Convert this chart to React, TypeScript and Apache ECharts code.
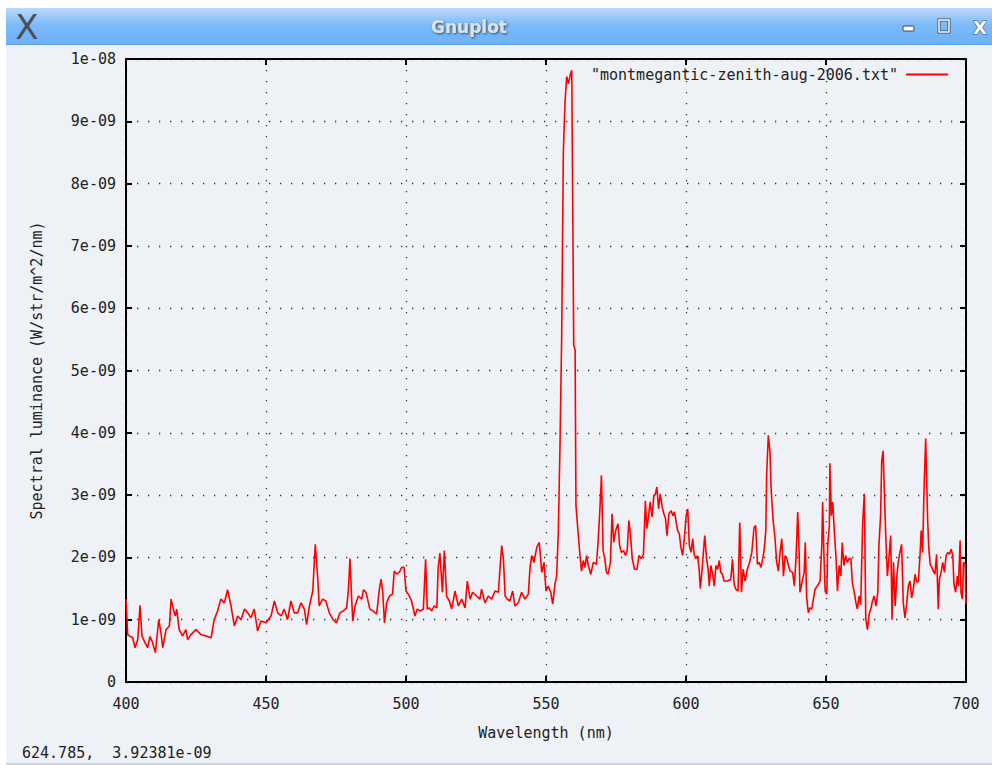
import React, { useEffect, useRef } from "react";
import * as echarts from "echarts";

// ---- data (wavelength in nm, luminance in units of 1e-9 W/str/m^2/nm) ----
const wlSeg1 = [
  400.0, 400.6, 401.2, 402.4, 403.2, 404.2, 405.0, 405.7, 406.5, 407.7,
  408.6, 409.5, 410.5, 411.7, 412.5, 413.1, 414.3, 415.5, 416.1, 416.9,
  417.6, 418.1, 419.0, 420.2, 421.4, 422.0, 423.2, 425.0, 426.8, 428.6,
  430.4, 431.5, 432.7, 433.9, 435.1, 436.3, 437.5, 438.7, 439.9, 441.1,
  442.3, 443.5, 444.6, 445.8, 447.0, 448.2, 450.0, 451.8, 453.0, 454.2,
  455.4, 456.5, 457.7, 458.9, 460.1, 461.3, 462.5, 463.7, 464.5, 465.5,
  466.7, 467.6, 468.5, 469.0, 470.2, 471.4, 472.6,
];
const lumSeg1 = [
  1.33, 0.76, 0.74, 0.71, 0.55, 0.68, 1.23, 0.74, 0.66, 0.55,
  0.73, 0.63, 0.47, 1.0, 0.79, 0.55, 0.84, 0.9, 1.33, 1.17,
  1.06, 1.17, 0.84, 0.74, 0.84, 0.68, 0.76, 0.84, 0.76, 0.74,
  0.71, 1.0, 1.14, 1.33, 1.27, 1.48, 1.22, 0.9, 1.06, 1.0,
  1.17, 1.11, 1.03, 1.17, 0.82, 0.98, 0.95, 1.06, 1.3, 1.11,
  1.06, 1.17, 1.0, 1.3, 1.11, 1.11, 1.27, 1.17, 0.92, 1.22,
  1.46, 2.21, 1.65, 1.22, 1.33, 1.3, 1.11,
];

const wlSeg2 = [
  474.0, 475.2, 476.4, 477.6, 478.8, 479.4, 480.0, 480.6, 481.0, 481.8,
  483.0, 484.2, 484.8, 485.7, 486.6, 487.1, 488.3, 489.5, 490.5, 491.1,
  491.7, 492.3, 493.1, 494.1, 495.2, 495.8, 496.7, 497.6, 498.5, 499.3,
  500.0, 501.2, 502.0, 503.2, 504.0, 505.2, 506.2, 507.0, 507.6, 508.3,
  509.2, 510.0, 511.0, 511.5, 512.1, 513.0, 513.7, 514.5, 515.5, 516.3,
  517.5, 518.7, 519.9, 521.1, 521.9, 522.9, 523.8, 525.2, 526.4, 527.0,
  528.2, 529.4, 530.6, 531.8, 533.0, 533.6, 534.2, 534.8, 535.4, 536.2,
  537.1, 538.1, 538.9, 540.1, 541.3, 542.5, 543.7, 544.3, 544.9, 545.7,
  546.7, 547.6,
];
const lumSeg2 = [
  1.0, 0.95, 1.11, 1.14, 1.19, 1.46, 1.98, 1.33, 0.98, 1.22,
  1.38, 1.33, 1.48, 1.44, 1.27, 1.17, 1.14, 1.09, 1.49, 1.65,
  1.44, 0.95, 1.27, 1.38, 1.41, 1.78, 1.73, 1.76, 1.84, 1.84,
  1.46, 1.38, 1.3, 1.06, 1.17, 1.14, 1.17, 1.97, 1.17, 1.19,
  1.14, 1.22, 1.19, 1.84, 2.07, 1.44, 2.11, 1.38, 1.3, 1.17,
  1.46, 1.22, 1.33, 1.19, 1.62, 1.33, 1.44, 1.38, 1.33, 1.49,
  1.27, 1.38, 1.33, 1.46, 1.44, 1.84, 2.19, 1.97, 1.38, 1.33,
  1.3, 1.46, 1.22, 1.27, 1.44, 1.33, 1.41, 1.84, 2.03, 1.92,
  2.16, 2.24,
];

const wlSeg3 = [
  548.5, 549.3, 550.0, 550.8, 551.7, 552.4, 553.2, 553.8, 554.4, 555.0,
  555.6, 556.2, 556.8, 557.4, 558.0, 558.7, 559.2, 559.9, 560.4, 560.7,
  561.5, 562.1, 562.7, 563.3, 563.9, 564.5, 565.1, 566.0, 566.9, 568.0,
  568.6, 569.2, 569.8, 570.4, 571.0, 571.6, 572.2, 573.0, 573.6, 574.2,
  574.9, 575.7, 576.3, 576.9, 577.7, 578.4, 579.0, 579.6, 580.2, 580.8,
  581.6, 582.5, 583.2, 584.0, 584.8, 585.5, 586.0, 586.6, 587.2, 587.9,
  588.5, 589.1, 589.6, 590.2, 590.8, 591.5, 592.1, 592.7, 593.2, 593.9,
  594.7, 595.3, 595.9, 596.4, 597.0, 597.6, 598.2, 598.8, 599.4, 600.0,
  600.6, 601.2, 601.8, 602.4, 602.9, 603.5, 604.1, 604.7, 605.1, 605.7,
  606.3, 606.7, 607.3, 607.9, 608.3, 608.9, 609.5, 610.1, 610.7, 611.3,
  611.9, 612.4, 613.0, 613.6, 614.8, 616.0, 616.6, 617.2, 617.8, 618.6,
  619.2, 619.8, 620.4, 621.1, 621.9, 622.7, 623.5, 624.3, 624.9, 625.5,
];
const lumSeg3 = [
  1.76, 1.92, 1.46, 1.54, 1.44, 1.25, 1.57, 1.7, 2.4, 3.8,
  5.54, 8.51, 9.31, 9.72, 9.6, 9.75, 9.82, 5.41, 5.33, 2.83,
  2.38, 2.05, 1.78, 1.95, 1.84, 2.03, 1.87, 1.73, 1.92, 1.89,
  2.24, 2.73, 3.32, 2.11, 1.98, 1.76, 1.73, 1.92, 2.7, 2.24,
  2.43, 2.54, 2.19, 2.08, 2.11, 2.03, 2.11, 2.59, 2.35, 1.98,
  1.81, 1.81, 2.03, 1.98, 2.05, 2.91, 2.46, 2.65, 2.89, 2.65,
  2.99, 3.02, 3.13, 2.78, 3.02, 2.81, 2.7, 2.62, 2.35, 2.7,
  2.75, 2.67, 2.73, 2.59, 2.43, 2.38, 2.16, 2.03, 2.3, 2.65,
  2.78, 2.19, 2.08, 2.3, 2.05, 1.98, 2.03, 1.81, 1.5, 1.78,
  2.13, 2.35, 2.0, 1.81, 1.54, 1.87, 1.73, 1.54, 1.87, 1.81,
  1.95, 1.76, 1.73, 1.62, 1.62, 1.65, 1.97, 1.57, 1.49, 1.46,
  2.56, 1.44, 1.81, 1.62, 1.81, 1.92, 2.08, 2.48, 2.51, 1.89,
];

const wlSeg4 = [
  626.1, 626.8, 627.4, 627.9, 628.5, 628.8, 629.4, 630.0, 630.4, 630.8,
  631.2, 631.8, 632.4, 633.0, 633.6, 634.2, 634.8, 635.4, 636.0, 636.6,
  637.2, 638.1, 638.7, 639.3, 639.9, 640.4, 640.7, 641.3, 642.2, 642.6,
  643.1, 643.7, 644.3, 644.9, 645.5, 646.1, 646.9, 647.9, 648.5, 648.8,
  649.3, 649.7, 650.3, 650.6, 651.2, 651.4, 651.9, 652.4, 653.0, 653.6,
  654.1, 654.7, 655.3, 655.8, 656.4, 657.0, 657.6, 658.2, 658.9, 659.4,
  660.1, 660.7, 661.2, 661.8, 662.4, 663.1, 663.7, 664.2, 664.8, 665.4,
  666.0, 666.6, 667.2, 667.9, 668.5, 668.9, 669.5, 669.9, 670.4, 670.7,
  671.3, 671.9, 672.5, 673.1, 673.6, 674.1, 674.7, 675.3, 675.8, 676.4,
  677.0, 677.6, 678.2, 678.8, 679.4, 680.0, 680.6, 681.2, 681.8, 682.4,
  683.0, 683.6, 684.0, 684.5, 685.0, 685.6, 686.0, 686.3, 686.7, 687.2,
  687.8, 688.3, 688.9, 689.5, 690.1, 690.5, 691.1, 691.7, 692.3, 692.9,
  693.5, 694.1, 694.7, 695.3, 695.7, 696.3, 696.9, 697.3, 697.9, 698.2,
  698.7, 699.1, 699.7, 700.0,
];
const lumSeg4 = [
  1.92, 1.84, 1.98, 2.11, 2.43, 3.32, 3.96, 3.69, 3.1, 2.81,
  2.56, 2.3, 1.92, 1.78, 2.08, 2.3, 1.7, 2.03, 1.98, 1.87,
  1.78, 1.76, 1.54, 2.0, 2.73, 2.08, 1.44, 1.57, 1.76, 2.24,
  1.35, 1.11, 1.19, 1.17, 1.33, 1.49, 1.54, 1.62, 2.19, 2.89,
  1.98, 1.46, 1.41, 2.19, 2.51, 3.51, 2.67, 2.89, 2.4, 1.98,
  1.46, 1.87, 1.7, 2.24, 1.87, 2.03, 1.92, 1.98, 1.98, 1.6,
  1.44, 1.27, 1.17, 1.38, 1.24, 2.56, 3.02, 1.02, 0.84, 1.09,
  1.17, 1.3, 1.38, 1.22, 1.44, 2.19, 2.67, 3.55, 3.71, 3.27,
  2.4, 1.7, 2.0, 2.35, 1.0, 1.92, 1.22, 1.7, 1.92, 2.08,
  2.21, 1.27, 1.03, 1.25, 1.54, 1.62, 1.35, 1.49, 1.73, 1.6,
  1.62, 2.05, 2.43, 2.08, 3.07, 3.91, 3.17, 2.6, 2.16, 1.89,
  1.84, 1.78, 1.73, 2.05, 1.17, 1.65, 1.76, 1.92, 1.76, 2.03,
  2.08, 2.05, 2.13, 2.03, 1.57, 1.44, 1.7, 1.54, 2.27, 1.44,
  1.33, 1.92, 1.89, 1.25,
];

const LUM_UNIT = 1e-9;
const xMin = 400;
const xMax = 700;
const xStep = 50;
const yMin = 0;
const yMax = 1e-8;
const yStep = 1e-9;

const seriesName = '"montmegantic-zenith-aug-2006.txt"';
const xAxisTitle = "Wavelength (nm)";
const yAxisTitle = "Spectral luminance (W/str/m^2/nm)";
const windowTitle = "Gnuplot";
const statusText = "624.785,  3.92381e-09";

const MONO = "'DejaVu Sans Mono', 'Liberation Mono', monospace";
const BG = "#eef1f6";

const fmtExp = (v: number) => {
  if (Math.abs(v) < 1e-20) return "0";
  const s = v.toExponential(0);
  const [m, e] = s.split("e");
  const sign = e[0] === "-" ? "-" : "+";
  const d = e.replace(/[-+]/, "").padStart(2, "0");
  return `${m}e${sign}${d}`;
};

export default function App() {
  const ref = useRef<HTMLDivElement>(null);

  useEffect(() => {
    if (!ref.current) return;
    const chart = echarts.init(ref.current, undefined, { renderer: "svg" });

    const wl = [...wlSeg1, ...wlSeg2, ...wlSeg3, ...wlSeg4];
    const lum = [...lumSeg1, ...lumSeg2, ...lumSeg3, ...lumSeg4];
    const data = wl.map((w, i) => [w, lum[i] * LUM_UNIT]);

    const frameLine = { color: "#000", width: 2 };
    const tick = { show: true, inside: true, length: 6, lineStyle: { color: "#000", width: 2 } };
    const grid = { color: "#333", width: 1.3, type: [1.3, 9.7] as any };
    const labelStyle = { color: "#222", fontFamily: MONO, fontSize: 15 };

    chart.setOption({
      animation: false,
      backgroundColor: BG,
      textStyle: { fontFamily: MONO },
      grid: { left: 126, top: 59, width: 840, height: 623, containLabel: false },
      legend: {
        data: [seriesName],
        right: 44,
        top: 67,
        padding: 0,
        align: "right",
        icon: "rect",
        itemWidth: 42,
        itemHeight: 2,
        selectedMode: false,
        textStyle: { ...labelStyle, padding: [0, 3, 0, 0] },
      },
      xAxis: [
        {
          type: "value",
          min: xMin,
          max: xMax,
          interval: xStep,
          position: "bottom",
          axisLine: { show: true, onZero: false, lineStyle: frameLine },
          axisTick: tick,
          axisLabel: { ...labelStyle, margin: 14 },
          splitLine: { show: true, lineStyle: grid },
          name: xAxisTitle,
          nameLocation: "middle",
          nameGap: 43,
          nameTextStyle: labelStyle,
        },
        {
          type: "value",
          min: xMin,
          max: xMax,
          interval: xStep,
          position: "top",
          axisLine: { show: true, onZero: false, lineStyle: frameLine },
          axisTick: tick,
          axisLabel: { show: false },
          splitLine: { show: false },
        },
      ],
      yAxis: [
        {
          type: "value",
          min: yMin,
          max: yMax,
          interval: yStep,
          position: "left",
          axisLine: { show: true, onZero: false, lineStyle: frameLine },
          axisTick: tick,
          axisLabel: { ...labelStyle, margin: 10, formatter: fmtExp },
          splitLine: { show: true, lineStyle: grid },
          name: yAxisTitle,
          nameLocation: "middle",
          nameGap: 82,
          nameTextStyle: labelStyle,
        },
        {
          type: "value",
          min: yMin,
          max: yMax,
          interval: yStep,
          position: "right",
          axisLine: { show: true, onZero: false, lineStyle: frameLine },
          axisTick: tick,
          axisLabel: { show: false },
          splitLine: { show: false },
        },
      ],
      series: [
        {
          name: seriesName,
          type: "line",
          xAxisIndex: 0,
          yAxisIndex: 0,
          data,
          showSymbol: false,
          symbol: "none",
          lineStyle: { color: "#ff0000", width: 1.6 },
          itemStyle: { color: "#ff0000" },
          z: 3,
        },
      ],
      graphic: [
        { type: "rect", shape: { x: 0, y: 0, width: 992, height: 8 }, style: { fill: "#ffffff" }, silent: true },
        { type: "rect", shape: { x: 0, y: 0, width: 6, height: 765 }, style: { fill: "#ffffff" }, silent: true },
        {
          type: "rect",
          shape: { x: 6, y: 8, width: 986, height: 37 },
          style: {
            fill: new echarts.graphic.LinearGradient(0, 0, 0, 1, [
              { offset: 0, color: "#bcd9fb" },
              { offset: 0.45, color: "#7dbaf9" },
              { offset: 1, color: "#6cb1f7" },
            ]),
          },
          silent: true,
        },
        { type: "rect", shape: { x: 6, y: 44, width: 986, height: 1 }, style: { fill: "#5c9ee2" }, silent: true },
        {
          type: "text",
          x: 27,
          y: 27,
          style: {
            text: "X",
            fontFamily: "'DejaVu Sans', sans-serif",
            fontSize: 34,
            fill: "#4a5058",
            align: "center",
            verticalAlign: "middle",
          },
          silent: true,
        },
        {
          type: "text",
          x: 469,
          y: 27,
          style: {
            text: windowTitle,
            fontFamily: "'DejaVu Sans', sans-serif",
            fontSize: 17,
            fontWeight: "bold",
            fill: "#dde2e8",
            align: "center",
            verticalAlign: "middle",
            textShadowColor: "rgba(40,50,60,0.8)",
            textShadowBlur: 2,
            textShadowOffsetX: 1,
            textShadowOffsetY: 1,
          },
          silent: true,
        },
        {
          type: "rect",
          shape: { x: 903, y: 26, width: 11, height: 5, r: 1 },
          style: { fill: "#ffffff", stroke: "#3a4654", lineWidth: 1 },
          silent: true,
        },
        {
          type: "rect",
          shape: { x: 939, y: 20, width: 10, height: 12 },
          style: { fill: "none", stroke: "#3a4654", lineWidth: 3 },
          silent: true,
        },
        {
          type: "rect",
          shape: { x: 939, y: 20, width: 10, height: 12 },
          style: { fill: "none", stroke: "#ffffff", lineWidth: 1.5 },
          silent: true,
        },
        {
          type: "text",
          x: 980,
          y: 27,
          style: {
            text: "X",
            fontFamily: "'DejaVu Sans', sans-serif",
            fontSize: 18,
            fontWeight: "bold",
            fill: "#ffffff",
            stroke: "#3a4654",
            lineWidth: 1,
            align: "center",
            verticalAlign: "middle",
          },
          silent: true,
        },
        {
          type: "text",
          x: 22,
          y: 753,
          style: {
            text: statusText,
            fontFamily: MONO,
            fontSize: 15,
            fill: "#222",
            verticalAlign: "middle",
          },
          silent: true,
        },
        { type: "rect", shape: { x: 6, y: 763, width: 986, height: 2 }, style: { fill: "#cdd5e0" }, silent: true },
      ],
    });

    return () => chart.dispose();
  }, []);

  return (
    <div
      ref={ref}
      style={{ position: "fixed", left: 0, top: 0, width: 992, height: 765 }}
    />
  );
}
